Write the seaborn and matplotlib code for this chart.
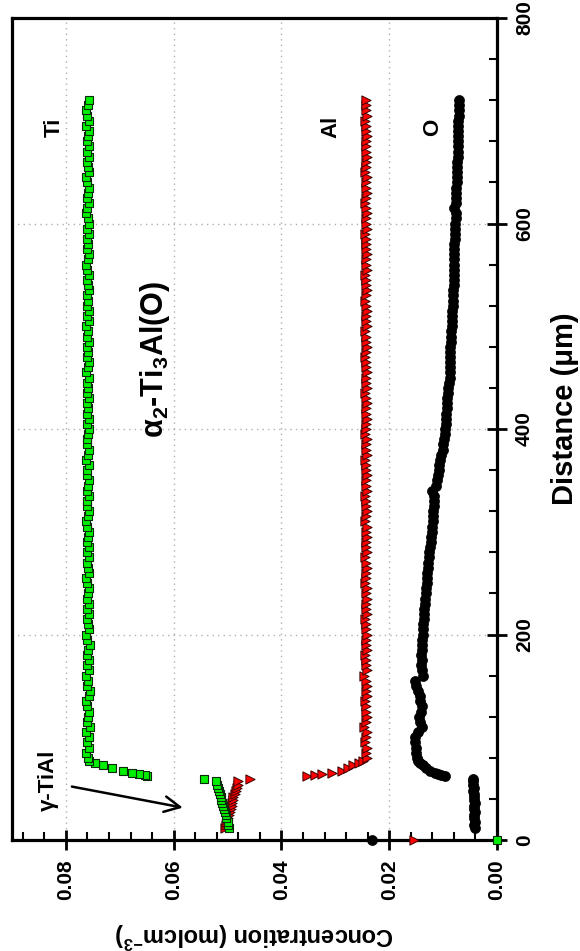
import numpy as np
import pandas as pd
import matplotlib
matplotlib.use("Agg")
import matplotlib.pyplot as plt
from matplotlib.ticker import MultipleLocator, FormatStrFormatter
import seaborn as sns

# ---------------- data ----------------
# distance (um) of each measurement point
dist_origin = [0]
dist_gamma = [12, 15, 18, 21, 24, 27, 30, 33, 36, 39, 42, 45, 48, 51, 54, 57, 59]
dist_trans = [62, 63, 64, 65, 67, 70, 73, 75, 77]
dist_alpha = [80, 85, 90, 95, 100, 105, 110, 115, 120, 125,
              130, 135, 140, 145, 150, 155, 160, 165, 170, 175,
              180, 185, 190, 195, 200, 205, 210, 215, 220, 225,
              230, 235, 240, 245, 250, 255, 260, 265, 270, 275,
              280, 285, 290, 295, 300, 305, 310, 315, 320, 325,
              330, 335, 340, 345, 350, 355, 360, 365, 370, 375,
              380, 385, 390, 395, 400, 405, 410, 415, 420, 425,
              430, 435, 440, 445, 450, 455, 460, 465, 470, 475,
              480, 485, 490, 495, 500, 505, 510, 515, 520, 525,
              530, 535, 540, 545, 550, 555, 560, 565, 570, 575,
              580, 585, 590, 595, 600, 605, 610, 615, 620, 625,
              630, 635, 640, 645, 650, 655, 660, 665, 670, 675,
              680, 685, 690, 695, 700, 705, 710, 715, 720]

ti_origin = [0.0]
ti_gamma = [0.0498, 0.0500, 0.0499, 0.0502, 0.0503, 0.0504, 0.0507, 0.0508, 0.0510,
            0.0512, 0.0513, 0.0514, 0.0516, 0.0517, 0.0519, 0.0522, 0.0544]
ti_trans = [0.0650, 0.0653, 0.0665, 0.0678, 0.0694, 0.0715, 0.0731, 0.0746, 0.0757]
ti_alpha = [0.0759, 0.0762, 0.0757, 0.0760, 0.0758, 0.0763, 0.0756, 0.0761, 0.0759, 0.0757,
            0.0760, 0.0762, 0.0758, 0.0755, 0.0761, 0.0759, 0.0763, 0.0757, 0.0760, 0.0758,
            0.0761, 0.0759, 0.0756, 0.0760, 0.0762, 0.0758, 0.0759, 0.0761, 0.0757, 0.0760,
            0.0758, 0.0761, 0.0759, 0.0757, 0.0760, 0.0762, 0.0758, 0.0759, 0.0761, 0.0758,
            0.0760, 0.0757, 0.0761, 0.0759, 0.0758, 0.0760, 0.0762, 0.0759, 0.0757, 0.0760,
            0.0761, 0.0758, 0.0760, 0.0759, 0.0757, 0.0761, 0.0760, 0.0758, 0.0762, 0.0759,
            0.0758, 0.0760, 0.0761, 0.0759, 0.0757, 0.0760, 0.0758, 0.0761, 0.0759, 0.0760,
            0.0757, 0.0761, 0.0759, 0.0760, 0.0758, 0.0762, 0.0759, 0.0757, 0.0760, 0.0759,
            0.0761, 0.0758, 0.0760, 0.0759, 0.0762, 0.0757, 0.0760, 0.0758, 0.0761, 0.0759,
            0.0760, 0.0757, 0.0759, 0.0761, 0.0758, 0.0760, 0.0762, 0.0759, 0.0757, 0.0760,
            0.0759, 0.0761, 0.0758, 0.0760, 0.0757, 0.0759, 0.0762, 0.0760, 0.0758, 0.0761,
            0.0759, 0.0757, 0.0760, 0.0762, 0.0758, 0.0759, 0.0761, 0.0757, 0.0760, 0.0758,
            0.0761, 0.0759, 0.0757, 0.0762, 0.0758, 0.0760, 0.0763, 0.0759, 0.0758]

al_origin = [0.0154]
al_gamma = [0.0504, 0.0502, 0.0501, 0.0499, 0.0498, 0.0496, 0.0493, 0.0492, 0.0491,
            0.0490, 0.0489, 0.0487, 0.0485, 0.0483, 0.0481, 0.0480, 0.0459]
al_trans = [0.0352, 0.0337, 0.0324, 0.0307, 0.0287, 0.0276, 0.0267, 0.0257, 0.0248]
al_alpha = [0.0241, 0.0244, 0.0242, 0.0245, 0.0243, 0.0241, 0.0246, 0.0243, 0.0242, 0.0244,
            0.0243, 0.0245, 0.0241, 0.0244, 0.0242, 0.0243, 0.0246, 0.0242, 0.0244, 0.0243,
            0.0245, 0.0242, 0.0244, 0.0243, 0.0241, 0.0244, 0.0243, 0.0245, 0.0242, 0.0244,
            0.0243, 0.0241, 0.0244, 0.0242, 0.0245, 0.0243, 0.0244, 0.0242, 0.0243, 0.0245,
            0.0242, 0.0244, 0.0243, 0.0241, 0.0244, 0.0242, 0.0245, 0.0243, 0.0242, 0.0244,
            0.0243, 0.0245, 0.0242, 0.0244, 0.0243, 0.0241, 0.0244, 0.0243, 0.0245, 0.0242,
            0.0244, 0.0243, 0.0242, 0.0245, 0.0243, 0.0244, 0.0242, 0.0243, 0.0244, 0.0242,
            0.0243, 0.0245, 0.0242, 0.0244, 0.0243, 0.0242, 0.0244, 0.0243, 0.0245, 0.0243,
            0.0242, 0.0244, 0.0243, 0.0245, 0.0242, 0.0243, 0.0244, 0.0242, 0.0243, 0.0245,
            0.0243, 0.0242, 0.0244, 0.0243, 0.0245, 0.0242, 0.0243, 0.0244, 0.0242, 0.0243,
            0.0244, 0.0243, 0.0245, 0.0242, 0.0243, 0.0244, 0.0242, 0.0243, 0.0245, 0.0243,
            0.0242, 0.0244, 0.0243, 0.0242, 0.0245, 0.0243, 0.0244, 0.0242, 0.0243, 0.0244,
            0.0243, 0.0242, 0.0244, 0.0243, 0.0245, 0.0242, 0.0243, 0.0244, 0.0243]

o_origin = [0.0232]
o_gamma = [0.0041, 0.0042, 0.0041, 0.0043, 0.0042, 0.0041, 0.0042, 0.0043, 0.0041,
           0.0042, 0.0043, 0.0042, 0.0044, 0.0043, 0.0044, 0.0045, 0.0044]
o_trans = [0.0096, 0.0104, 0.0110, 0.0115, 0.0124, 0.0132, 0.0137, 0.0142, 0.0146]
o_alpha = [0.0148, 0.0150, 0.0151, 0.0152, 0.0152, 0.0146, 0.0139, 0.0142, 0.0144, 0.0141,
           0.0140, 0.0142, 0.0143, 0.0147, 0.0150, 0.0152, 0.0138, 0.0140, 0.0141, 0.0140,
           0.0141, 0.0139, 0.0140, 0.0139, 0.0138, 0.0137, 0.0137, 0.0136, 0.0135, 0.0135,
           0.0134, 0.0133, 0.0132, 0.0131, 0.0130, 0.0130, 0.0129, 0.0128, 0.0128, 0.0127,
           0.0126, 0.0124, 0.0123, 0.0122, 0.0121, 0.0120, 0.0119, 0.0118, 0.0118, 0.0117,
           0.0117, 0.0116, 0.0120, 0.0114, 0.0112, 0.0110, 0.0108, 0.0107, 0.0105, 0.0103,
           0.0101, 0.0100, 0.0099, 0.0097, 0.0096, 0.0095, 0.0095, 0.0094, 0.0093, 0.0093,
           0.0092, 0.0091, 0.0090, 0.0089, 0.0088, 0.0088, 0.0088, 0.0087, 0.0087, 0.0087,
           0.0087, 0.0086, 0.0085, 0.0085, 0.0084, 0.0084, 0.0083, 0.0083, 0.0082, 0.0082,
           0.0081, 0.0081, 0.0080, 0.0080, 0.0080, 0.0080, 0.0080, 0.0079, 0.0079, 0.0079,
           0.0079, 0.0078, 0.0078, 0.0078, 0.0078, 0.0077, 0.0077, 0.0080, 0.0077, 0.0076,
           0.0076, 0.0076, 0.0075, 0.0075, 0.0075, 0.0074, 0.0074, 0.0073, 0.0073, 0.0072,
           0.0072, 0.0073, 0.0073, 0.0072, 0.0072, 0.0071, 0.0071, 0.0070, 0.0070]

distance = dist_origin + dist_gamma + dist_trans + dist_alpha
ti = ti_origin + ti_gamma + ti_trans + ti_alpha
al = al_origin + al_gamma + al_trans + al_alpha
ox = o_origin + o_gamma + o_trans + o_alpha

x_ticks = [0.00, 0.02, 0.04, 0.06, 0.08]
y_ticks = [0, 200, 400, 600, 800]

# ---------------- style ----------------
sns.set_theme(style="white")
plt.rcParams["font.family"] = ["Liberation Sans", "DejaVu Sans"]
plt.rcParams["font.weight"] = "bold"
plt.rcParams["axes.labelweight"] = "bold"
plt.rcParams["text.color"] = "black"
plt.rcParams["axes.labelcolor"] = "black"
plt.rcParams["xtick.color"] = "black"
plt.rcParams["ytick.color"] = "black"
plt.rcParams["mathtext.fontset"] = "custom"
plt.rcParams["mathtext.rm"] = "Liberation Sans:bold"
plt.rcParams["mathtext.it"] = "Liberation Sans:bold"
plt.rcParams["mathtext.bf"] = "Liberation Sans:bold"
plt.rcParams["mathtext.default"] = "rm"

df_ti = pd.DataFrame({"dist": distance, "conc": ti})
df_al = pd.DataFrame({"dist": distance, "conc": al})
df_o = pd.DataFrame({"dist": distance, "conc": ox})

fig = plt.figure(figsize=(5.8, 9.51), dpi=100)
ax = fig.add_axes([12 / 580, 1 - 840 / 951, (497 - 12) / 580, (840 - 18) / 951])

sns.scatterplot(data=df_al, x="conc", y="dist", marker=">", s=44, color="#ff0000",
                edgecolor="#3a0000", linewidth=0.7, ax=ax, clip_on=False, zorder=5, legend=False)
sns.scatterplot(data=df_ti, x="conc", y="dist", marker="s", s=36, color="#00ee00",
                edgecolor="#0a2a0a", linewidth=0.8, ax=ax, clip_on=False, zorder=6, legend=False)
sns.scatterplot(data=df_o, x="conc", y="dist", marker="o", s=52, color="black",
                edgecolor="black", linewidth=0.5, ax=ax, clip_on=False, zorder=7, legend=False)

ax.set_xlim(0.09, 0.0)
ax.set_ylim(0, 800)

# axes styling
for sp in ax.spines.values():
    sp.set_linewidth(2.3)
    sp.set_color("black")

ax.set_xticks(x_ticks)
ax.xaxis.set_major_formatter(FormatStrFormatter("%.2f"))
ax.xaxis.set_minor_locator(MultipleLocator(0.004))
ax.set_yticks(y_ticks)
ax.yaxis.set_minor_locator(MultipleLocator(40))
ax.yaxis.tick_right()

ax.tick_params(axis="x", which="major", direction="inout", length=14, width=2,
               bottom=True, top=False, labelrotation=90, labelsize=15, pad=7, colors="black")
ax.tick_params(axis="x", which="minor", direction="in", length=6, width=1.5,
               bottom=True, top=False)
ax.tick_params(axis="y", which="major", direction="inout", length=14, width=2,
               left=False, right=True, labelleft=False, labelright=True,
               labelrotation=90, labelsize=15, pad=6, colors="black")
ax.tick_params(axis="y", which="minor", direction="in", length=6, width=1.5,
               left=False, right=True)
for lab in ax.get_xticklabels() + ax.get_yticklabels():
    lab.set_fontweight("bold")
for lab in ax.get_yticklabels():
    lab.set_verticalalignment("center")

ax.grid(True, which="major", linestyle=(0, (1, 3)), color="#b0b0b0", linewidth=1.0)
ax.set_axisbelow(True)

ax.set_xlabel("Concentration (molcm$^{-3}$)", rotation=180, fontsize=17,
              fontweight="bold", ha="center", va="center", color="black")
ax.xaxis.set_label_coords(0.5, (840 - 935) / 822)
ax.set_ylabel("Distance (\u03bcm)", rotation=90, fontsize=21, fontweight="bold",
              ha="center", va="center", color="black")
ax.yaxis.set_label_position("right")
ax.yaxis.set_label_coords((551 - 12) / 485, 0.525)

# annotations
ax.text(0.0822, 694, "Ti", rotation=90, ha="center", va="center", fontsize=16,
        fontweight="bold", color="black")
ax.text(0.0309, 694, "Al", rotation=90, ha="center", va="center", fontsize=16,
        fontweight="bold", color="black")
ax.text(0.0120, 694, "O", rotation=90, ha="center", va="center", fontsize=16,
        fontweight="bold", color="black")
ax.text(0.0635, 468, r"$\alpha_2$-Ti$_3$Al(O)", rotation=90, ha="center", va="center",
        fontsize=22, fontweight="bold", color="black")
ax.text(0.0833, 58, "\u03b3-TiAl", rotation=90, ha="center", va="center",
        fontsize=16, fontweight="bold", color="black")
ax.annotate("", xy=(0.0578, 31), xytext=(0.0794, 52.5),
            arrowprops=dict(arrowstyle="->", lw=1.8, color="black", mutation_scale=28))

fig.savefig("out.png", dpi=100)
